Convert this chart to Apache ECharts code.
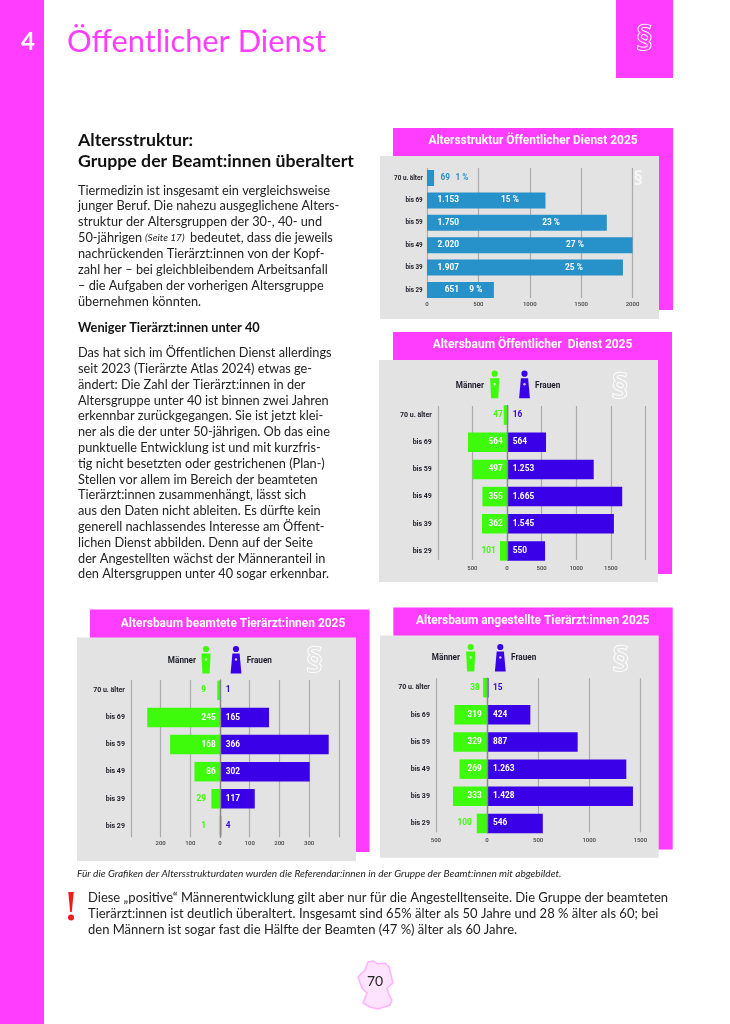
<!DOCTYPE html>
<html><head><meta charset="utf-8">
<style>html,body{margin:0;padding:0;background:#fff}#c{width:730px;height:1024px}</style>
<script src="https://cdn.jsdelivr.net/npm/echarts@6/dist/echarts.min.js"></script>
</head><body><div id="c"></div>
<script>
const ageGroups = ["70 u. älter","bis 69","bis 59","bis 49","bis 39","bis 29"];

const totalCounts = [69,1153,1750,2020,1907,651];
const totalShares = [1,15,23,27,25,9];

const publicMen = [47,564,497,355,362,101];
const publicWomen = [16,564,1253,1665,1545,550];

const civilMen = [9,245,168,86,29,1];
const civilWomen = [1,165,366,302,117,4];

const employedMen = [38,319,329,269,333,100];
const employedWomen = [15,424,887,1363,1428,546];
const employedWomenLabels = ["15","424","887","1.263","1.428","546"];

const titles = ["Altersstruktur Öffentlicher Dienst 2025","Altersbaum Öffentlicher  Dienst 2025","Altersbaum beamtete Tierärzt:innen 2025","Altersbaum angestellte Tierärzt:innen 2025"];

const introLines = ["Tiermedizin ist insgesamt ein vergleichsweise","junger Beruf. Die nahezu ausgeglichene Alters-","struktur der Altersgruppen der 30-, 40- und",null,"nachrückenden Tierärzt:innen von der Kopf-","zahl her – bei gleichbleibendem Arbeitsanfall","– die Aufgaben der vorherigen Altersgruppe","übernehmen könnten."];
const bodyLines = ["Das hat sich im Öffentlichen Dienst allerdings","seit 2023 (Tierärzte Atlas 2024) etwas ge-","ändert: Die Zahl der Tierärzt:innen in der","Altersgruppe unter 40 ist binnen zwei Jahren","erkennbar zurückgegangen. Sie ist jetzt klei-","ner als die der unter 50-jährigen. Ob das eine","punktuelle Entwicklung ist und mit kurzfris-","tig nicht besetzten oder gestrichenen (Plan-)","Stellen vor allem im Bereich der beamteten","Tierärzt:innen zusammenhängt, lässt sich","aus den Daten nicht ableiten. Es dürfte kein","generell nachlassendes Interesse am Öffent-","lichen Dienst abbilden. Denn auf der Seite","der Angestellten wächst der Männeranteil in","den Altersgruppen unter 40 sogar erkennbar."];
const noteLines = ["Diese „positive“ Männerentwicklung gilt aber nur für die Angestelltenseite. Die Gruppe der beamteten","Tierärzt:innen ist deutlich überaltert. Insgesamt sind 65% älter als 50 Jahre und 28 % älter als 60; bei","den Männern ist sogar fast die Hälfte der Beamten (47 %) älter als 60 Jahre."];

const MAGENTA='#FF3DFF', PANEL='#E3E3E3', GREEN='#3DFB0B', PURPLE='#3A00E8', BLUE='#2792C9';
const TEXT_FONT='Lato', CHART_FONT='Roboto';
const de = v => String(v).replace(/\B(?=(\d{3})+$)/g,'.');

const grids=[], xAxes=[], yAxes=[], series=[], graphics=[];

function T(x,y,text,o={}){
  graphics.push({type:'text',x,y,z:o.z??20,silent:true,style:{text,fontSize:o.size||12,fontWeight:o.weight||'normal',fontStyle:o.italic?'italic':'normal',
    fontFamily:o.family||TEXT_FONT,fill:o.color||'#222',align:o.align||'left',verticalAlign:'middle',stroke:o.stroke,lineWidth:o.lw||0,opacity:o.opacity??1}});
}
function R(x0,y0,x1,y1,fill,z=-2){
  graphics.push({type:'rect',z,silent:true,shape:{x:x0,y:y0,width:x1-x0,height:y1-y0},style:{fill}});
}
function person(cx,headY,color,isWoman){
  graphics.push({type:'circle',z:10,silent:true,shape:{cx,cy:headY,r:3.1},style:{fill:color}});
  const t=headY+4.6,b=headY+24.6;
  const pts=isWoman?[[cx-3.6,t],[cx+3.6,t],[cx+5.4,b],[cx-5.4,b]]:[[cx-4.6,t],[cx+4.6,t],[cx+3.6,b],[cx-3.6,b]];
  graphics.push({type:'polygon',z:10,silent:true,shape:{points:pts},style:{fill:color}});
  graphics.push({type:'circle',z:11,silent:true,shape:{cx,cy:headY+10.5,r:1.2},style:{fill:'rgba(255,255,255,.8)'}});
}
function legend(menRight,textY,menHead,womenHead,womenLeft,headY,sx,sy){
  T(menRight,textY,'Männer',{size:8.2,weight:'bold',align:'right',family:CHART_FONT,color:'#1d1d2b'});
  T(womenLeft,textY,'Frauen',{size:8.2,weight:'bold',family:CHART_FONT,color:'#1d1d2b'});
  person(menHead,headY,GREEN,false);person(womenHead,headY,PURPLE,true);
  T(sx,sy,'§',{size:33,align:'center',family:'"Noto Sans"',color:PANEL,stroke:'#fff',lw:2});
}
function frame(mag,panel,title,tx,ty){
  R(mag[0],mag[1],mag[2],mag[3],MAGENTA,-3);
  R(panel[0],panel[1],panel[2],panel[3],PANEL,-2);
  T(tx,ty,title,{size:11.95,weight:'bold',align:'center',color:'#fff',family:CHART_FONT});
}

function lineGrid(c){
  const i=grids.length;
  grids.push({left:c.left,width:c.right-c.left,top:c.lineTop,height:c.lineBottom-c.lineTop});
  xAxes.push({gridIndex:i,type:'value',min:c.min,max:c.max,interval:c.interval,
    axisLine:{show:false},axisTick:{show:false},
    splitLine:{show:true,lineStyle:{color:'#ABABAB',width:1.2}},
    axisLabel:{fontFamily:CHART_FONT,fontSize:6,fontWeight:500,color:'#444',margin:c.tickMargin,showMinLabel:c.showMin,showMaxLabel:c.showMax,
      formatter:v=>String(Math.abs(v))}});
  yAxes.push({gridIndex:i,type:'category',inverse:true,data:ageGroups,z:5,
    axisLine:{show:c.centerLine,onZero:true,lineStyle:{color:'#8A8A8A',width:1.4}},axisTick:{show:false},axisLabel:{show:false},splitLine:{show:false}});
}
function barGrid(c){
  const i=grids.length;
  grids.push({left:c.left,width:c.right-c.left,top:c.rowTop,height:c.rowBottom-c.rowTop});
  xAxes.push({gridIndex:i,type:'value',min:c.min,max:c.max,show:false,splitLine:{show:false}});
  yAxes.push({gridIndex:i,type:'category',inverse:true,data:ageGroups,axisLine:{show:false},axisTick:{show:false},splitLine:{show:false},
    axisLabel:{fontFamily:CHART_FONT,fontSize:c.catSize,fontWeight:'bold',color:'#1d1d2b',margin:c.catMargin}});
  return i;
}
function pyramid(c,men,women,womenLabels,menGapOverride,menOut,womenOut){
  lineGrid(Object.assign({centerLine:true},c));
  const i=barGrid(c);
  const labelBase={show:true,fontFamily:CHART_FONT,fontSize:8.3,fontWeight:'bold',verticalAlign:'middle'};
  series.push({type:'bar',name:'Männer',xAxisIndex:i,yAxisIndex:i,stack:'pyramid'+i,barWidth:19.5,silent:true,itemStyle:{color:GREEN},
    data:men.map((v,k)=>({value:-v,label:{color:menOut.includes(k)?GREEN:'#fff',distance:menGapOverride[k]??c.menGap}})),
    label:Object.assign({},labelBase,{position:'insideRight',formatter:p=>de(men[p.dataIndex])})});
  series.push({type:'bar',name:'Frauen',xAxisIndex:i,yAxisIndex:i,stack:'pyramid'+i,barWidth:19.5,silent:true,itemStyle:{color:PURPLE},
    data:women.map((v,k)=>({value:v,label:{color:womenOut.includes(k)?PURPLE:'#fff'}})),
    label:Object.assign({},labelBase,{position:'insideLeft',distance:c.womenGap,formatter:p=>womenLabels[p.dataIndex]})});
}

/* page furniture */
R(0,0,44,1024,MAGENTA,-3);
R(616,0,673,78,MAGENTA,-3);
T(644.5,41,'§',{size:32,align:'center',family:'"Noto Sans"',color:MAGENTA,stroke:'#fff',lw:2});
T(28,42,'4',{size:24,weight:'bold',align:'center',color:'#fff'});
T(67,42,'Öffentlicher Dienst',{size:30.8,color:MAGENTA});

T(78,140,'Altersstruktur:',{size:17.7,weight:'bold',color:'#111'});
T(78,161,'Gruppe der Beamt:innen überaltert',{size:17.7,weight:'bold',color:'#111'});
introLines.forEach((s,k)=>{ if(s) T(78,190.5+k*15.85,s,{size:12.75}); });
T(78,238,'50-jährigen',{size:12.75});
T(145,238,'(Seite 17)',{size:10,italic:true});
T(190,238,'bedeutet, dass die jeweils',{size:12.75});
T(78,327.5,'Weniger Tierärzt:innen unter 40',{size:12.75,weight:'bold',color:'#111'});
bodyLines.forEach((s,k)=>T(78,353+k*15.8,s,{size:12.75}));
T(77,873.5,'Für die Grafiken der Altersstrukturdaten wurden die Referendar:innen in der Gruppe der Beamt:innen mit abgebildet.',{size:10.1,italic:true});
noteLines.forEach((s,k)=>T(88,898+k*15.8,s,{size:13}));
graphics.push({type:'polygon',z:10,silent:true,shape:{points:[[68.3,892],[73.7,892],[71.8,912],[70.2,912]]},style:{fill:'#F01A1A'}});
graphics.push({type:'circle',z:10,silent:true,shape:{cx:71,cy:917.5,r:3},style:{fill:'#F01A1A'}});
graphics.push({type:'polygon',z:5,silent:true,shape:{points:[[368,962],[373,961],[378,964],[385,963],[389,967],[391,975],[393,983],[387,988],[389,995],[392,1000],[390,1005],[378,1009],[370,1007],[363,1003],[367,993],[362,988],[358,977],[365,970]]},style:{fill:'#FDE3FD',stroke:'#FFB4FF',lineWidth:1.6}});
T(375,981,'70',{size:14,align:'center',color:'#222'});

/* chart 1 */
frame([393,128,673,310],[380,156,659,319],titles[0],533,141.5);
T(638,180,'§',{size:19,weight:'bold',align:'center',family:'"Noto Sans"',color:'#fff',opacity:.75});
(function(){
  const c={left:427,right:632.5,min:0,max:2000,interval:500,lineTop:168,lineBottom:298,rowTop:166.8,rowBottom:301.2,tickMargin:3,catSize:6.3,catMargin:4.3,showMin:true,showMax:true,centerLine:false};
  lineGrid(c);
  const i=barGrid(c);
  const base={show:true,fontFamily:CHART_FONT,fontSize:8.3,fontWeight:'bold',verticalAlign:'middle',color:'#fff'};
  const shareAnchor=['','70%','69%','72%','75%','73%'];
  series.push({type:'bar',xAxisIndex:i,yAxisIndex:i,barWidth:16,barGap:'-100%',silent:true,itemStyle:{color:BLUE},
    data:totalCounts.map((v,k)=>k===0?{value:v,label:{color:BLUE,position:[23,'50%']}}:{value:v}),
    label:Object.assign({},base,{align:'right',position:[32,'50%'],formatter:p=>de(totalCounts[p.dataIndex])})});
  series.push({type:'bar',xAxisIndex:i,yAxisIndex:i,barWidth:16,barGap:'-100%',silent:true,z:3,itemStyle:{color:'rgba(0,0,0,0)'},
    data:totalCounts.map((v,k)=>({value:v,label:k===0?{color:BLUE,position:[35,'50%']}:{position:[shareAnchor[k],'50%']}})),
    label:Object.assign({},base,{align:'center',formatter:p=>totalShares[p.dataIndex]+' %'})});
})();

/* chart 2 */
frame([393,332,672,574],[379,360,658,582],titles[1],532.5,345.5);
legend(484,385.7,494.7,524.5,535,373.7,620,389);
pyramid({left:437.8,right:645.4,min:-1000,max:2000,interval:500,lineTop:406,lineBottom:560,rowTop:401.5,rowBottom:564.5,tickMargin:5.5,catSize:7,catMargin:6,showMin:false,showMax:false,menGap:4.3,womenGap:5.7},
  publicMen,publicWomen,publicWomen.map(de),{5:11.3},[0,5],[0]);

/* chart 3 */
frame([90,609.5,369.5,852],[77,637.5,356,861],titles[2],233,624);
legend(196,661,206,236,246.7,649,314.5,663);
pyramid({left:130.9,right:338.8,min:-300,max:400,interval:100,lineTop:680,lineBottom:837.3,rowTop:676.8,rowBottom:839.4,tickMargin:3,catSize:7,catMargin:6,showMin:false,showMax:false,menGap:4.3,womenGap:5.7},
  civilMen,civilWomen,civilWomen.map(de),{0:14,4:14,5:14},[0,4,5],[0,5]);

/* chart 4 */
frame([393.3,607.5,672.7,849.5],[380,635.5,658.7,857.7],titles[3],532.7,621);
legend(460,658.3,470.7,500.3,511,647,620.7,661.5);
pyramid({left:435.9,right:640.3,min:-500,max:1500,interval:500,lineTop:678.3,lineBottom:832.3,rowTop:674.1,rowBottom:837,tickMargin:5,catSize:7,catMargin:6,showMin:true,showMax:true,menGap:5.3,womenGap:6},
  employedMen,employedWomen,employedWomenLabels,{0:7.3,5:15.3},[0,5],[0]);

const chart=echarts.init(document.getElementById('c'),null,{renderer:'canvas',width:730,height:1024});
chart.setOption({animation:false,backgroundColor:'#fff',grid:grids,xAxis:xAxes,yAxis:yAxes,series,graphic:{elements:graphics}});
</script></body></html>
